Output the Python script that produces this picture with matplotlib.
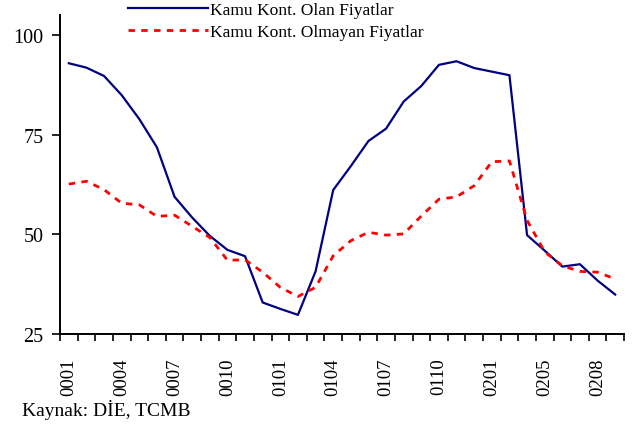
import numpy as np
import matplotlib
matplotlib.use('Agg')
import matplotlib.pyplot as plt

# monthly index values, yymm codes (0204 absent in source)
months = ['0001', '0002', '0003', '0004', '0005', '0006', '0007', '0008',
          '0009', '0010', '0011', '0012', '0101', '0102', '0103', '0104',
          '0105', '0106', '0107', '0108', '0109', '0110', '0111', '0112',
          '0201', '0202', '0203', '0205', '0206', '0207', '0208', '0209']
kamu_olan = [92.9, 91.8, 89.7, 84.9, 78.9, 71.8, 59.4, 54.2, 49.6, 46.1,
             44.5, 32.9, 31.3, 29.8, 40.7, 61.1, 67.1, 73.4, 76.5, 83.3,
             87.2, 92.5, 93.4, 91.7, 90.8, 89.9, 49.8, 45.9, 41.9, 42.5,
             38.4, 34.9]
kamu_olmayan = [62.6, 63.3, 61.2, 57.8, 57.4, 54.5, 54.8, 52.0, 49.2, 43.5,
                43.6, 40.5, 36.7, 34.4, 36.7, 44.6, 48.4, 50.5, 49.8, 50.1,
                54.6, 58.8, 59.4, 62.2, 68.2, 68.4, 53.5, 45.6, 42.1, 40.7,
                40.5, 38.8]
yticks = [25, 50, 75, 100]

plt.rcParams['font.family'] = ['Liberation Serif', 'DejaVu Serif']

fig = plt.figure(figsize=(6.34, 4.27), dpi=100)
ax = fig.add_axes([60 / 634, 92 / 427, 564 / 634, 319 / 427])

x = np.arange(len(months))
l1, = ax.plot(x, kamu_olan, color='#000080', lw=1.6)
l2, = ax.plot(x, kamu_olmayan, color='#ff0000', lw=2.0, dashes=(2.3, 2.3))

ax.set_xlim(-0.5, len(months) - 0.5)
ax.set_ylim(25, 105)
ax.set_yticks(yticks)
ax.set_yticklabels([str(v) for v in yticks], fontsize=14.5)

# labels every third month, ticks between categories
ax.set_xticks(x[::3])
ax.set_xticklabels(months[::3], rotation=90, fontsize=13.5)
ax.set_xticks(np.arange(-0.5, len(months) + 0.5, 1), minor=True)
ax.tick_params(axis='x', which='major', length=0, pad=17)
ax.tick_params(axis='x', which='minor', length=5, width=1.2, direction='out')
ax.tick_params(axis='y', length=6, width=1.2, direction='out', pad=6)

for s in ['top', 'right']:
    ax.spines[s].set_visible(False)
for s in ['left', 'bottom']:
    ax.spines[s].set_linewidth(1.4)

fig.legend([l1, l2], ['Kamu Kont. Olan Fiyatlar', 'Kamu Kont. Olmayan Fiyatlar'],
           loc='upper left', bbox_to_anchor=(112 / 634, 1.03), frameon=False,
           fontsize=12.6, handlelength=4.6, handletextpad=0.12, labelspacing=0.3)

fig.text(22 / 634, 1 - 410 / 427, 'Kaynak: DİE, TCMB', fontsize=14, va='center')

fig.savefig('out.png', dpi=100)
